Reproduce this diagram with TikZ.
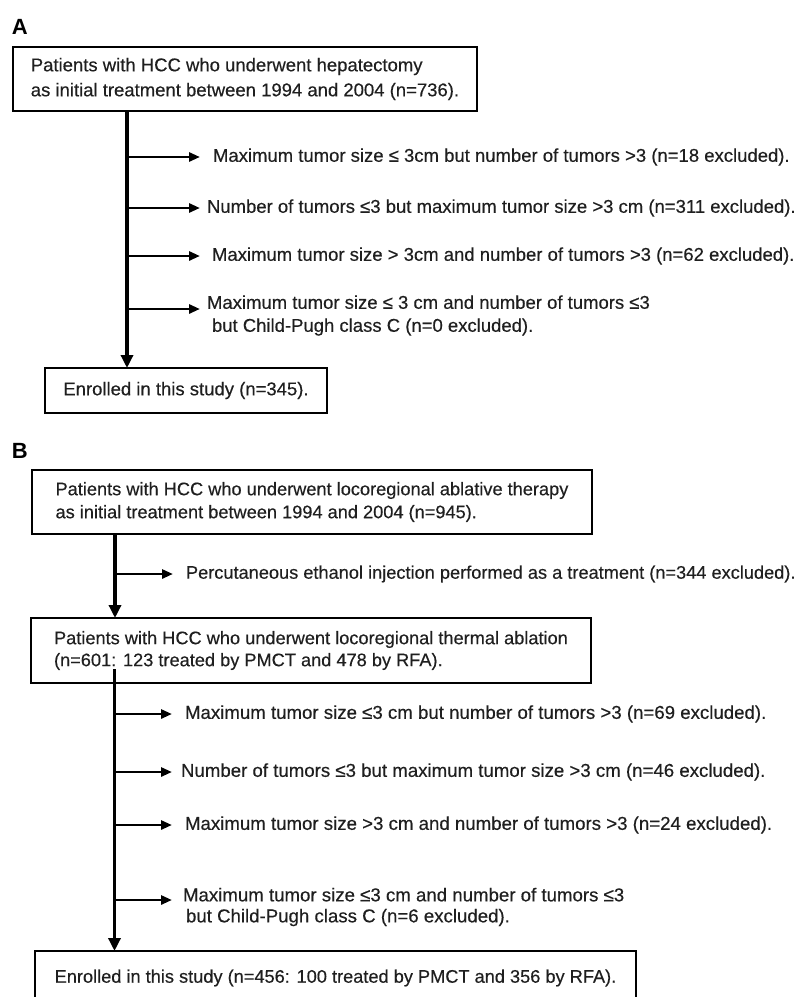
\documentclass[tikz,border=0pt]{standalone}
\usepackage{fontspec}
\setmainfont[FakeBold=0.35]{Liberation Sans}
\newfontfamily\labelfont{Liberation Sans}
\usetikzlibrary{arrows.meta}
\begin{document}
\begin{tikzpicture}[x=1pt,y=-1pt,
  every node/.style={inner sep=0pt, outer sep=0pt, text=black!88},
  txt/.style={font=\fontsize{18.5}{24}\selectfont},
  txtb/.style={font=\fontsize{18.2}{24}\selectfont},
  txtc/.style={font=\fontsize{18.65}{24}\selectfont},
  boxnode/.style={draw=black, line width=2.4pt, align=left, anchor=north west},
  lbl/.style={font=\labelfont\fontsize{22}{26}\selectfont\bfseries, anchor=west, text=black},
  exc/.style={txt, anchor=west, align=left},
  excb/.style={txtb, anchor=west, align=left},
  excc/.style={txtc, anchor=west, align=left},
  spine/.style={line width=3.6pt, -{Triangle[length=13pt,width=12pt]}},
  branch/.style={line width=2.8pt, -{Triangle[length=11pt,width=9pt]}},
]
\useasboundingbox (0,0) rectangle (801,997);
\fill[white] (0,0) rectangle (801,997);

% ---------------- Panel A ----------------
\node[lbl] (labA) at (12,27) {A};
\node[boxnode, minimum width=464pt, minimum height=64pt, font=\fontsize{18.5}{25}\selectfont] (A1) at (13,47)
  {Patients with HCC who underwent hepatectomy\\as initial treatment between 1994 and 2004 (n=736).};
\node[boxnode, txt, minimum width=282pt, minimum height=45pt] (A2) at (45,368)
  {Enrolled in this study (n=345).};
\coordinate (sA) at ([xshift=114pt]A1.south west);
\draw[spine] (sA) -- (sA |- A2.north);

\node[exc] (a1) at (213,157) {Maximum tumor size ≤ 3cm but number of tumors >3 (n=18 excluded).};
\node[exc] (a2) at (207,208) {Number of tumors ≤3 but maximum tumor size >3 cm (n=311 excluded).};
\node[exc] (a3) at (212,256) {Maximum tumor size > 3cm and number of tumors >3 (n=62 excluded).};
\node[exc, font=\fontsize{18.5}{23}\selectfont] (a4) at (207,315.5)
  {Maximum tumor size ≤ 3 cm and number of tumors ≤3\\\hspace{5pt}but Child-Pugh class C (n=0 excluded).};
\coordinate (a4t) at ([yshift=6.5pt]a4.west);

\draw[branch] (sA |- a1.west) -- ([xshift=-13pt]a1.west);
\draw[branch] (sA |- a2.west) -- ([xshift=-7pt]a2.west);
\draw[branch] (sA |- a3.west) -- ([xshift=-12pt]a3.west);
\draw[branch] (sA |- a4t) -- ([xshift=-7pt]a4t);

% ---------------- Panel B ----------------
\node[lbl] (labB) at (12,451) {B};
\node[boxnode, minimum width=560pt, minimum height=64pt, font=\fontsize{18.2}{23}\selectfont] (B1) at (32,470)
  {Patients with HCC who underwent locoregional ablative therapy\\as initial treatment between 1994 and 2004 (n=945).};
\node[boxnode, minimum width=560pt, minimum height=65pt, font=\fontsize{18.2}{22}\selectfont] (B2) at (31,618)
  {Patients with HCC who underwent locoregional thermal ablation\\(n=601: 123 treated by PMCT and 478 by RFA).};
\node[boxnode, txtb, minimum width=601pt, minimum height=54pt] (B3) at (35,951)
  {Enrolled in this study (n=456: 100 treated by PMCT and 356 by RFA).};

\coordinate (sB) at ([xshift=83pt]B1.south west);
\draw[spine] (sB) -- (sB |- B2.north);
\node[excb] (b0) at (186,574) {Percutaneous ethanol injection performed as a treatment (n=344 excluded).};
\draw[branch] (sB |- b0.west) -- ([xshift=-13pt]b0.west);

\coordinate (sC) at (114.5,669);
\draw[spine] (sC) -- (sC |- B3.north);
\node[excc] (b1) at (185,714) {Maximum tumor size ≤3 cm but number of tumors >3 (n=69 excluded).};
\node[excc] (b2) at (181,772) {Number of tumors ≤3 but maximum tumor size >3 cm (n=46 excluded).};
\node[excc] (b3) at (185,825) {Maximum tumor size >3 cm and number of tumors >3 (n=24 excluded).};
\node[excc, font=\fontsize{18.65}{21}\selectfont] (b4) at (183,907)
  {Maximum tumor size ≤3 cm and number of tumors ≤3\\\hspace{3pt}but Child-Pugh class C (n=6 excluded).};
\coordinate (b4t) at ([yshift=7pt]b4.west);

\draw[branch] (sC |- b1.west) -- ([xshift=-13pt]b1.west);
\draw[branch] (sC |- b2.west) -- ([xshift=-9pt]b2.west);
\draw[branch] (sC |- b3.west) -- ([xshift=-13pt]b3.west);
\draw[branch] (sC |- b4t) -- ([xshift=-11pt]b4t);
\end{tikzpicture}
\end{document}
